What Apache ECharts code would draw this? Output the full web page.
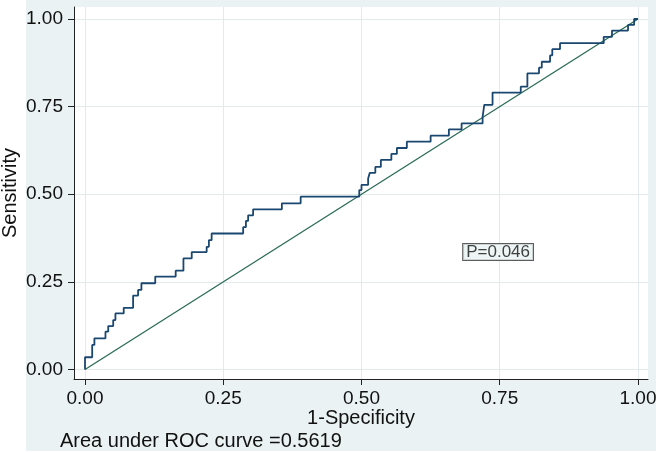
<!DOCTYPE html>
<html>
<head>
<meta charset="utf-8">
<script src="https://cdn.jsdelivr.net/npm/echarts@6/dist/echarts.min.js"></script>
<style>
  html, body { margin: 0; padding: 0; background: #ffffff; }
  #bg { position: absolute; left: 26px; top: 0; width: 630px; height: 451px; background: #EAF2F3; }
  #chart { position: absolute; left: 0; top: 0; width: 656px; height: 453px; }
</style>
</head>
<body>
<div id="bg"></div>
<div id="chart"></div>
<script>
// ROC curve vertices (1-Specificity, Sensitivity), step drawn horizontally then vertically
const fpr = [0, 0, 0.013, 0.017, 0.037, 0.042, 0.051, 0.055, 0.070, 0.087, 0.096, 0.102, 0.127, 0.164, 0.178, 0.193, 0.220, 0.224, 0.229, 0.286, 0.291, 0.295, 0.304, 0.356, 0.390, 0.496, 0.500, 0.512, 0.515, 0.525, 0.535, 0.554, 0.564, 0.582, 0.625, 0.658, 0.681, 0.719, 0.722, 0.737, 0.788, 0.800, 0.821, 0.826, 0.841, 0.845, 0.859, 0.938, 0.953, 0.982, 0.993, 1.0];
const tpr = [0, 0.035, 0.070, 0.089, 0.108, 0.124, 0.141, 0.160, 0.176, 0.211, 0.227, 0.246, 0.265, 0.282, 0.317, 0.335, 0.350, 0.369, 0.388, 0.406, 0.424, 0.440, 0.457, 0.474, 0.493, 0.512, 0.527, 0.545, 0.561, 0.578, 0.598, 0.615, 0.632, 0.650, 0.667, 0.685, 0.702, 0.721, 0.755, 0.790, 0.807, 0.845, 0.861, 0.878, 0.896, 0.914, 0.931, 0.949, 0.967, 0.983, 1.0, 1.0];
// reference (chance) line
const refX = [0, 1];
const refY = [0, 1];
// tick labels
const xTicks = [0, 0.25, 0.5, 0.75, 1];
const yTicks = [0, 0.25, 0.5, 0.75, 1];
// texts
const xTitle = '1-Specificity';
const yTitle = 'Sensitivity';
const aucText = 'Area under ROC curve =0.5619';
const pText = 'P=0.046';
const pPos = [0.747, 0.335];

const FONT = '"Liberation Sans", Arial, Helvetica, sans-serif';
const rocData = fpr.map((x, i) => [x, tpr[i]]);
const refData = refX.map((x, i) => [x, refY[i]]);

const chart = echarts.init(document.getElementById('chart'), null, { renderer: 'canvas' });
const axisCommon = {
  type: 'value',
  axisLine: { show: true, onZero: false, lineStyle: { color: '#222', width: 1 } },
  axisTick: { show: true, length: 6, lineStyle: { color: '#222', width: 1 } },
  splitLine: { show: true, lineStyle: { color: '#e2eaec', width: 1 } },
  nameLocation: 'middle',
  nameMoveOverlap: false,
  nameTextStyle: { fontSize: 20, color: '#111', fontFamily: FONT }
};
chart.setOption({
  backgroundColor: 'transparent',
  animation: false,
  textStyle: { fontFamily: FONT },
  title: {
    text: aucText, left: 55, top: 426,
    textStyle: { fontSize: 20, fontWeight: 'normal', color: '#111', fontFamily: FONT }
  },
  grid: { left: 74, right: 8, top: 7, bottom: 74, show: true, backgroundColor: '#ffffff', borderWidth: 0,
          containLabel: false, outerBoundsMode: 'none' },
  xAxis: Object.assign({}, axisCommon, {
    min: -0.0199, max: 1.0181,
    name: xTitle, nameGap: 29,
    axisTick: Object.assign({}, axisCommon.axisTick, { customValues: xTicks }),
    axisLabel: { customValues: xTicks, formatter: v => v.toFixed(2), fontSize: 19, color: '#111', margin: 10, fontFamily: FONT }
  }),
  yAxis: Object.assign({}, axisCommon, {
    min: -0.0271, max: 1.0342,
    name: yTitle, nameGap: 54, nameRotate: 90,
    axisTick: Object.assign({}, axisCommon.axisTick, { customValues: yTicks }),
    axisLabel: { customValues: yTicks, formatter: v => v.toFixed(2), fontSize: 19, color: '#111', margin: 11, fontFamily: FONT }
  }),
  series: [
    {
      type: 'line', data: refData, symbol: 'none', silent: true,
      lineStyle: { color: '#2b6b57', width: 1.3 }
    },
    {
      type: 'line', data: rocData, step: 'end', symbol: 'none', silent: true,
      lineStyle: { color: '#1a476f', width: 1.8 }
    },
    {
      type: 'scatter', data: [pPos], symbolSize: 0, silent: true,
      label: {
        show: true, position: 'inside', formatter: pText,
        fontSize: 17, color: '#111', fontFamily: FONT,
        backgroundColor: '#EAF2F3', borderColor: '#333', borderWidth: 1,
        padding: [0, 3, -1, 3]
      }
    }
  ]
});
</script>
</body>
</html>
